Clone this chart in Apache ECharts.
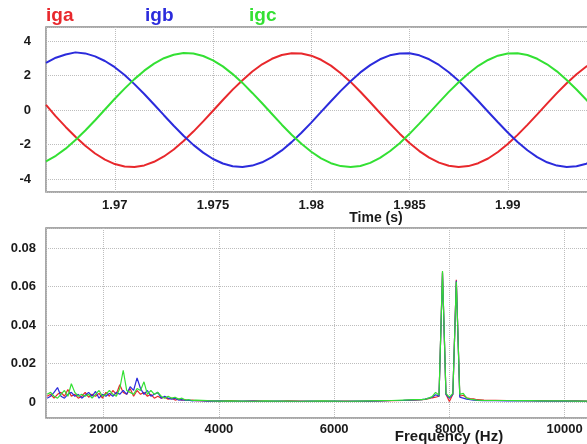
<!DOCTYPE html>
<html>
<head>
<meta charset="utf-8">
<script src="https://cdn.jsdelivr.net/npm/echarts@6/dist/echarts.min.js"></script>
<style>
html,body{margin:0;padding:0;background:#fff;}
#chart{width:587px;height:444px;}
</style>
</head>
<body>
<div id="chart"></div>
<script>
// ---- Top panel: phase currents vs time ----
const timeS = [1.9665,1.9670,1.9675,1.9680,1.9685,1.9690,1.9695,1.9700,1.9705,1.9710,
  1.9715,1.9720,1.9725,1.9730,1.9735,1.9740,1.9745,1.9750,1.9755,1.9760,
  1.9765,1.9770,1.9775,1.9780,1.9785,1.9790,1.9795,1.9800,1.9805,1.9810,
  1.9815,1.9820,1.9825,1.9830,1.9835,1.9840,1.9845,1.9850,1.9855,1.9860,
  1.9865,1.9870,1.9875,1.9880,1.9885,1.9890,1.9895,1.9900,1.9905,1.9910,
  1.9915,1.9920,1.9925,1.9930,1.9935,1.9940,1.9945,1.9950];
const iga = [0.30,-0.37,-0.98,-1.55,-2.07,-2.52,-2.87,-3.13,-3.27,-3.30,
  -3.21,-3.00,-2.69,-2.29,-1.80,-1.25,-0.66,-0.04,0.58,1.18,
  1.73,2.23,2.65,2.97,3.19,3.29,3.28,3.15,2.91,2.57,
  2.13,1.63,1.06,0.45,-0.17,-0.78,-1.37,-1.91,-2.38,-2.76,
  -3.05,-3.23,-3.30,-3.25,-3.08,-2.81,-2.43,-1.97,-1.44,-0.86,
  -0.25,0.37,0.98,1.55,2.07,2.52,2.87,3.13];
const igb = [2.73,3.03,3.22,3.34,3.28,3.11,2.84,2.48,2.03,1.50,
  0.93,0.32,-0.30,-0.91,-1.49,-2.02,-2.47,-2.84,-3.10,-3.26,
  -3.30,-3.22,-3.03,-2.73,-2.34,-1.86,-1.32,-0.73,-0.11,0.51,
  1.11,1.67,2.18,2.60,2.94,3.17,3.28,3.29,3.17,2.94,
  2.61,2.19,1.69,1.12,0.52,-0.10,-0.71,-1.30,-1.85,-2.33,
  -2.73,-3.03,-3.22,-3.30,-3.26,-3.11,-2.84,-2.48];
const igc = [-2.97,-2.65,-2.24,-1.74,-1.19,-0.59,0.03,0.65,1.24,1.79,
  2.28,2.69,3.00,3.20,3.30,3.27,3.13,2.88,2.53,2.08,
  1.57,0.99,0.39,-0.23,-0.85,-1.43,-1.96,-2.42,-2.80,-3.08,
  -3.25,-3.30,-3.24,-3.06,-2.77,-2.39,-1.92,-1.38,-0.79,-0.18,
  0.44,1.05,1.61,2.12,2.56,2.90,3.15,3.28,3.29,3.19,
  2.97,2.65,2.24,1.74,1.19,0.59,-0.03,-0.65];

// ---- Bottom panel: spectrum ----
const freqHz = [1020,1080,1140,1200,1260,1320,1380,1440,1500,1560,1620,1680,1740,1800,1860,1920,1980,
  2040,2100,2160,2220,2280,2340,2400,2460,2520,2580,2640,2700,2760,2820,2880,2940,3000,
  3060,3120,3180,3240,3300,3360,3420,3480,3540,3600,
  3800,4000,4200,4400,4600,4800,5000,5200,5400,5600,5800,6000,6200,6400,6600,6800,7000,7200,7400,
  7520,7580,7640,7700,7760,7820,7880,7940,8000,8060,8120,8180,8240,8300,8360,8420,8480,8600,
  8800,9000,9200,9400,9600,9800,10000,10200,10400,10600,10800];
const specA = [0.003,0.004,0.002,0.004,0.005,0.003,0.0065,0.003,0.004,0.002,0.003,0.005,0.0025,0.004,0.003,0.0045,0.002,
  0.005,0.003,0.006,0.004,0.009,0.005,0.004,0.007,0.003,0.006,0.004,0.005,0.003,0.004,0.002,0.003,0.002,
  0.0025,0.0015,0.002,0.001,0.0015,0.001,0.0012,0.0008,0.001,0.0007,
  0.0006,0.0005,0.0007,0.0004,0.0006,0.0005,0.0004,0.0006,0.0005,0.0004,0.0005,0.0004,0.0005,0.0004,0.0005,0.0006,0.0007,0.0008,0.001,
  0.0012,0.0014,0.0018,0.0022,0.0025,0.003,0.0675,0.004,0.0003,0.004,0.0635,0.003,0.0035,0.0022,0.0018,0.0016,0.0012,0.001,
  0.0009,0.0008,0.0008,0.0007,0.0007,0.0006,0.0006,0.0006,0.0005,0.0005,0.0005];
const specB = [0.002,0.003,0.005,0.0075,0.003,0.002,0.004,0.005,0.003,0.004,0.002,0.0035,0.005,0.003,0.0055,0.002,0.004,
  0.003,0.0045,0.003,0.005,0.004,0.006,0.004,0.008,0.006,0.0125,0.007,0.004,0.006,0.003,0.004,0.005,0.002,
  0.003,0.002,0.0015,0.002,0.001,0.0012,0.0008,0.001,0.0006,0.0008,
  0.0005,0.0006,0.0004,0.0005,0.0005,0.0004,0.0005,0.0004,0.0004,0.0005,0.0004,0.0005,0.0004,0.0005,0.0005,0.0006,0.0008,0.0009,0.0011,
  0.0012,0.0015,0.002,0.0025,0.0038,0.003,0.067,0.004,0.002,0.004,0.063,0.0025,0.002,0.0015,0.0012,0.001,0.0008,0.0007,
  0.0007,0.0006,0.0006,0.0006,0.0005,0.0005,0.0005,0.0005,0.0004,0.0004,0.0004];
const specC = [0.004,0.005,0.003,0.002,0.004,0.006,0.003,0.0095,0.005,0.003,0.004,0.003,0.004,0.002,0.004,0.006,0.003,
  0.004,0.006,0.004,0.003,0.007,0.0165,0.006,0.005,0.004,0.007,0.006,0.0105,0.004,0.006,0.004,0.005,0.003,
  0.002,0.003,0.002,0.0025,0.0015,0.002,0.001,0.0012,0.0008,0.001,
  0.0007,0.0005,0.0006,0.0005,0.0004,0.0006,0.0005,0.0005,0.0004,0.0005,0.0006,0.0005,0.0004,0.0005,0.0006,0.0007,0.0008,0.001,0.0012,
  0.0012,0.0015,0.002,0.0028,0.005,0.0035,0.068,0.0045,0.0025,0.0045,0.0625,0.004,0.0045,0.002,0.0015,0.0012,0.001,0.0008,
  0.0008,0.0008,0.0007,0.0007,0.0006,0.0006,0.0006,0.0005,0.0005,0.0005,0.0005];

const seriesNames = ['iga','igb','igc'];
const colors = ['#e8282c','#2b2bdc','#33e033'];

const pair = (xs, ys) => xs.map((x, i) => [x, ys[i]]);
const FONT = 'Liberation Sans, Arial, sans-serif';
const lblStyle = {color:'#1a1a1a', fontWeight:'bold', fontSize:13, fontFamily:FONT};
const splitL = {show:true, lineStyle:{color:'#bdbdbd', type:'dotted', width:1}};
function isMult(v, step){ const r = v/step; return Math.abs(r - Math.round(r)) < 1e-6; }

const chart = echarts.init(document.getElementById('chart'), null, {renderer:'canvas'});
chart.setOption({
  animation:false,
  backgroundColor:'#fff',
  grid:[
    {left:46, top:27, width:560, height:165, show:true, borderColor:'#8c8c8c', borderWidth:1.5, containLabel:false, outerBoundsMode:'none'},
    {left:46, top:228, width:559, height:190, show:true, borderColor:'#8c8c8c', borderWidth:1.5, containLabel:false, outerBoundsMode:'none'}
  ],
  xAxis:[
    {type:'value', gridIndex:0, min:1.9665, max:1.995, splitNumber:5,
     axisLine:{show:false}, axisTick:{show:false}, splitLine:splitL,
     axisLabel:Object.assign({margin:7, formatter:v => isMult(v,0.005) ? String(parseFloat(v.toFixed(4))) : ''}, lblStyle)},
    {type:'value', gridIndex:1, min:1000, max:10700, splitNumber:5,
     axisLine:{show:false}, axisTick:{show:false}, splitLine:splitL,
     axisLabel:Object.assign({margin:5, formatter:v => isMult(v,2000) ? String(Math.round(v)) : ''}, lblStyle)}
  ],
  yAxis:[
    {type:'value', gridIndex:0, min:-4.75, max:4.81, splitNumber:5,
     axisLine:{show:false}, axisTick:{show:false}, splitLine:splitL,
     axisLabel:Object.assign({margin:15, formatter:v => isMult(v,2) ? String(Math.round(v)) : ''}, lblStyle)},
    {type:'value', gridIndex:1, min:-0.0083, max:0.0904, splitNumber:5,
     axisLine:{show:false}, axisTick:{show:false}, splitLine:splitL,
     axisLabel:Object.assign({margin:10, formatter:v => isMult(v,0.02) ? (Math.abs(v)<1e-9 ? '0' : v.toFixed(2)) : ''}, lblStyle)}
  ],
  series:[
    {name:seriesNames[0], type:'line', xAxisIndex:0, yAxisIndex:0, data:pair(timeS, iga), showSymbol:false, symbol:'none', lineStyle:{color:colors[0], width:2}, itemStyle:{color:colors[0]}},
    {name:seriesNames[1], type:'line', xAxisIndex:0, yAxisIndex:0, data:pair(timeS, igb), showSymbol:false, symbol:'none', lineStyle:{color:colors[1], width:2}, itemStyle:{color:colors[1]}},
    {name:seriesNames[2], type:'line', xAxisIndex:0, yAxisIndex:0, data:pair(timeS, igc), showSymbol:false, symbol:'none', lineStyle:{color:colors[2], width:2}, itemStyle:{color:colors[2]}},
    {name:seriesNames[0]+' spectrum', type:'line', xAxisIndex:1, yAxisIndex:1, data:pair(freqHz, specA), showSymbol:false, symbol:'none', lineStyle:{color:colors[0], width:1.2}},
    {name:seriesNames[1]+' spectrum', type:'line', xAxisIndex:1, yAxisIndex:1, data:pair(freqHz, specB), showSymbol:false, symbol:'none', lineStyle:{color:colors[1], width:1.2}},
    {name:seriesNames[2]+' spectrum', type:'line', xAxisIndex:1, yAxisIndex:1, data:pair(freqHz, specC), showSymbol:false, symbol:'none', lineStyle:{color:colors[2], width:1.2}}
  ],
  graphic:[
    {type:'text', left:46, top:6, style:{text:seriesNames[0], fill:colors[0], font:'bold 19px '+FONT}},
    {type:'text', left:145, top:6, style:{text:seriesNames[1], fill:colors[1], font:'bold 19px '+FONT}},
    {type:'text', left:249, top:6, style:{text:seriesNames[2], fill:colors[2], font:'bold 19px '+FONT}},
    {type:'text', x:376, y:218, style:{text:'Time (s)', fill:'#1a1a1a', font:'bold 14px '+FONT, align:'center', verticalAlign:'middle'}},
    {type:'text', x:449, y:437, style:{text:'Frequency (Hz)', fill:'#1a1a1a', font:'bold 15px '+FONT, align:'center', verticalAlign:'middle'}}
  ]
});
</script>
</body>
</html>
